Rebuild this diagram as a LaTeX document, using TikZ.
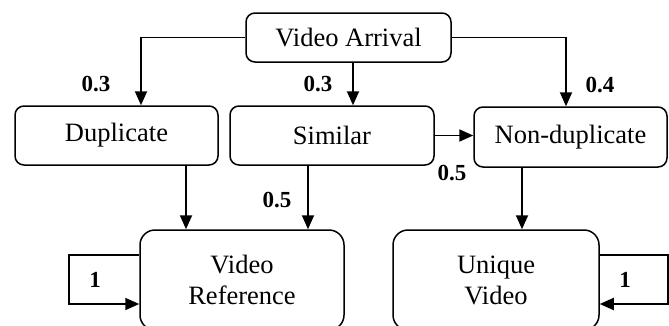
\documentclass[tikz,border=0pt]{standalone}
\usepackage{fontspec}
\setmainfont{Liberation Serif}
\usetikzlibrary{arrows.meta}
\begin{document}
\begin{tikzpicture}[x=1pt,y=-1pt,
  box/.style={draw,line width=1.5pt,rounded corners=9pt,inner sep=0pt,align=center,font=\fontsize{26.5}{31}\selectfont},
  bigbox/.style={box,rounded corners=15pt},
  arr/.style={line width=1.9pt,-{Triangle[width=12pt,length=14pt]}},
  lab/.style={font=\fontsize{23}{27}\selectfont\bfseries,inner sep=0pt}]
\clip (0,0) rectangle (669,325);
\fill[white] (0,0) rectangle (669,325);
\node[box,minimum width=205pt,minimum height=49pt] (va) at (348.5,37.5) {Video Arrival};
\node[box,minimum width=203pt,minimum height=59pt] (dup) at (116.5,135.5) {Duplicate};
\node[box,minimum width=204pt,minimum height=59pt] (sim) at (332,135.5) {Similar};
\node[box,minimum width=193pt,minimum height=60pt] (nd) at (570.5,137) {Non-duplicate};
\node[bigbox,minimum width=204pt,minimum height=100pt] (vr) at (242,280) {Video\\Reference};
\node[bigbox,minimum width=206pt,minimum height=100pt] (uv) at (496,280) {Unique\\Video};
\draw[arr] (va.west) -| ([xshift=24.5pt]dup.north);
\draw[arr] ([xshift=4.5pt]va.south) -- ([xshift=4.5pt]va.south |- sim.north);
\draw[arr] (va.east) -| ([xshift=-4.5pt]nd.north);
\draw[arr] (sim.east) -- (sim.east -| nd.west);
\draw[arr] ([xshift=69.5pt]dup.south) -- ([xshift=69.5pt]dup.south |- vr.north);
\draw[arr] ([xshift=-24pt]sim.south) -- ([xshift=-24pt]sim.south |- vr.north);
\draw[arr] ([xshift=-48.5pt]nd.south) -- ([xshift=-48.5pt]nd.south |- uv.north);
\draw[arr] ([yshift=25pt]vr.west) -- ++(-70,0) |- ([yshift=-24pt]vr.west);
\draw[arr] ([yshift=25pt]uv.east) -- ++(68,0) |- ([yshift=-24pt]uv.east);
\node[lab] (l1) at (96,84) {0.3};
\node[lab] (l2) at (318,84) {0.3};
\node[lab] (l3) at (600,85) {0.4};
\node[lab] (l4) at (452,173) {0.5};
\node[lab] (l5) at (277,200) {0.5};
\node[lab] (l6) at (95,280) {1};
\node[lab] (l7) at (625,280) {1};
\end{tikzpicture}
\end{document}
